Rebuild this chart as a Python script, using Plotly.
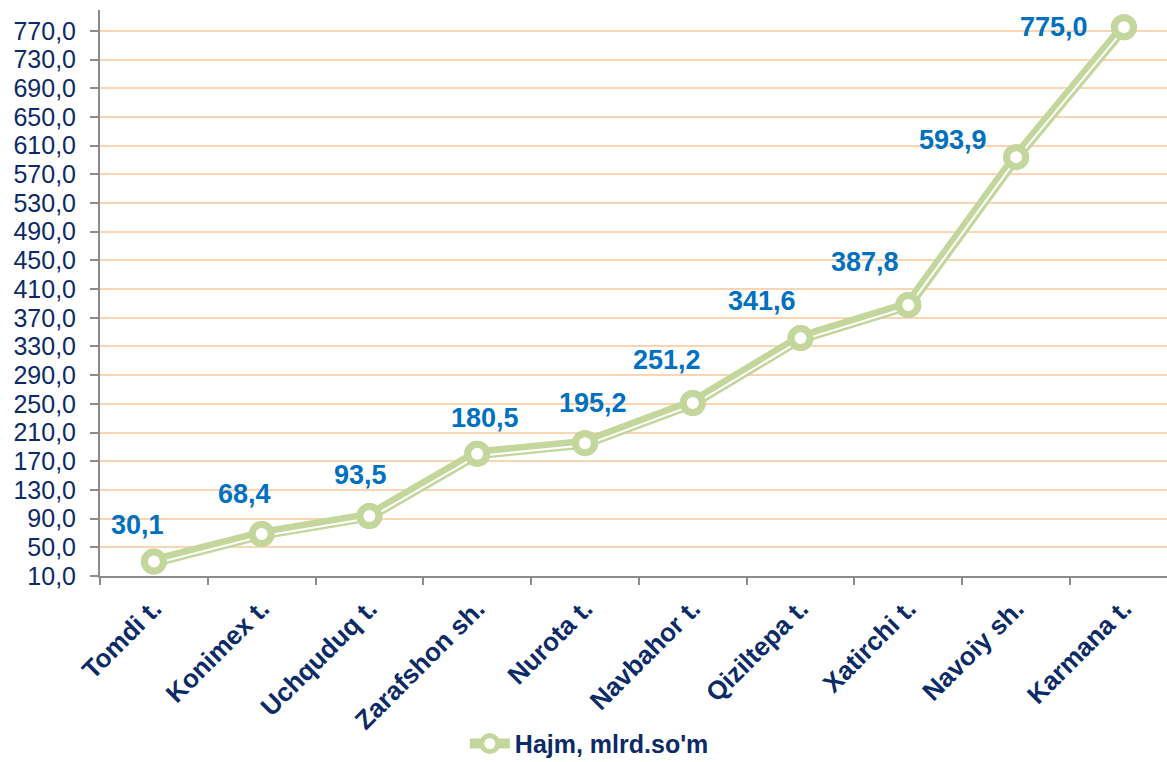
import plotly.graph_objects as go

categories = ["Tomdi t.", "Konimex t.", "Uchquduq t.", "Zarafshon sh.", "Nurota t.",
              "Navbahor t.", "Qiziltepa t.", "Xatirchi t.", "Navoiy sh.", "Karmana t."]
values = [30.1, 68.4, 93.5, 180.5, 195.2, 251.2, 341.6, 387.8, 593.9, 775.0]
value_labels = ["30,1", "68,4", "93,5", "180,5", "195,2", "251,2", "341,6", "387,8", "593,9", "775,0"]
series_name = "Hajm, mlrd.so'm"
y_ticks = list(range(10, 771, 40))
y_tick_text = [f"{v},0" for v in y_ticks]

# label offsets in pixels (style)
label_dx = [-16, -17, -9, 8, 8, -26, -39, -43, -63, -70]
label_dy = [37, 40, 41, 36, 40, 43, 37, 43, 17, 0]

GREEN = "#C3D69B"
NAVY = "#0B2A66"
BLUE = "#0070C0"
FONT = "Liberation Sans, Arial, sans-serif"

Y_MIN, Y_MAX = 10, 799
PLOT_H = 762 - 10 - 186
px_per_unit = PLOT_H / (Y_MAX - Y_MIN)
stripe_shift = 2.2 / px_per_unit  # white stripe sits slightly below the line centre
stripe_y = [v - stripe_shift for v in values]

fig = go.Figure()
fig.add_trace(go.Scatter(
    x=categories, y=values, mode="lines+markers", name=series_name,
    line=dict(color=GREEN, width=11),
    marker=dict(size=19, color="white", line=dict(color=GREEN, width=7)),
    showlegend=True, hoverinfo="skip"))
fig.add_trace(go.Scatter(
    x=categories, y=stripe_y, mode="lines",
    line=dict(color="white", width=2), showlegend=False, hoverinfo="skip"))
fig.add_trace(go.Scatter(
    x=categories, y=values, mode="markers",
    marker=dict(size=19, color="white", line=dict(color=GREEN, width=7)),
    showlegend=False, hoverinfo="skip"))

for c, v, t, dx, dy in zip(categories, values, value_labels, label_dx, label_dy):
    fig.add_annotation(x=c, y=v, text=f"<b>{t}</b>", showarrow=False,
                       xshift=dx, yshift=dy,
                       font=dict(family=FONT, size=27, color=BLUE))

fig.update_layout(
    width=1167, height=762,
    margin=dict(l=100, r=0, t=10, b=186, autoexpand=False),
    paper_bgcolor="white", plot_bgcolor="white",
    font=dict(family=FONT, color=NAVY),
    legend=dict(orientation="h", xref="container", yref="container",
                x=0.505, xanchor="center", y=0.054, yanchor="top",
                font=dict(family=FONT, size=25, color=NAVY, weight="bold"),
                itemwidth=40),
    xaxis=dict(type="category", range=[-0.5, 9.4], tickson="boundaries",
               automargin=False,
               ticks="outside", ticklen=7, tickwidth=2, tickcolor="#8C8C8C",
               showline=True, linecolor="#8C8C8C", linewidth=2,
               showgrid=False, tickangle=-45, ticklabelstandoff=5,
               tickfont=dict(family=FONT, size=26, color=NAVY, weight="bold")),
    yaxis=dict(range=[Y_MIN, Y_MAX], tickvals=y_ticks, ticktext=y_tick_text,
               automargin=False,
               ticks="outside", ticklen=8, tickwidth=2, tickcolor="#8C8C8C",
               showline=True, linecolor="#8C8C8C", linewidth=2,
               showgrid=True, gridcolor="#FCD5B4", gridwidth=2, zeroline=False,
               ticklabelstandoff=9,
               tickfont=dict(family=FONT, size=25, color=NAVY)),
)

fig.write_html("out.html", config={"displayModeBar": False},
               post_script="document.body.style.margin='0';document.body.style.overflow='hidden';")
